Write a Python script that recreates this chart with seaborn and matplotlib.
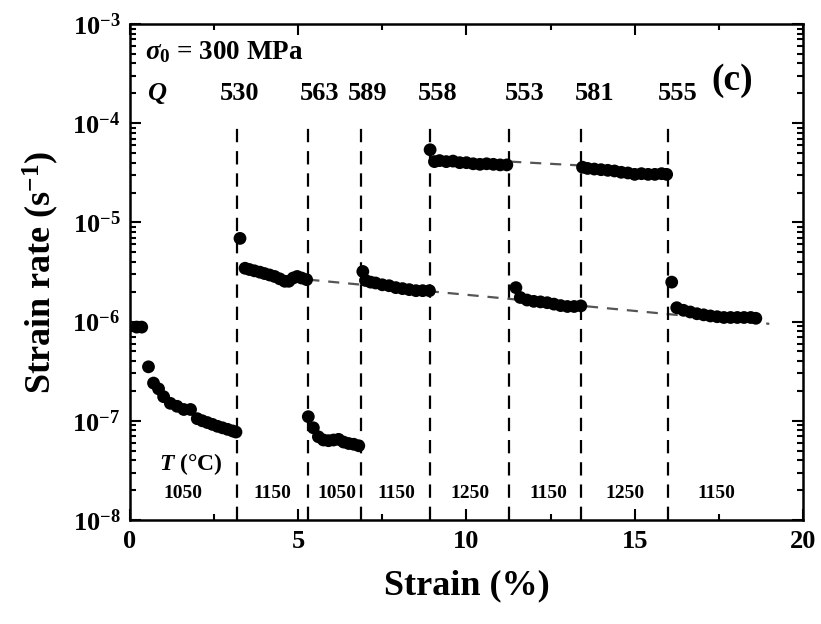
import numpy as np
import pandas as pd
import seaborn as sns
import matplotlib.pyplot as plt
from matplotlib.ticker import FuncFormatter, LogLocator, MultipleLocator

# ===== DATA =====
seg1_strain = [0.2, 0.35, 0.55, 0.7, 0.85, 1.0, 1.2, 1.4, 1.6, 1.8, 2.0, 2.15, 2.3, 2.45, 2.6, 2.75, 2.9, 3.05, 3.15]
seg1_rate = [8.8e-7, 8.8e-7, 3.5e-7, 2.4e-7, 2.1e-7, 1.75e-7, 1.5e-7, 1.4e-7, 1.3e-7, 1.3e-7, 1.05e-7,
             1.0e-7, 9.6e-8, 9.2e-8, 8.8e-8, 8.5e-8, 8.2e-8, 7.9e-8, 7.7e-8]

seg2_strain = [3.27, 3.42, 3.55, 3.7, 3.86, 4.0, 4.15, 4.3, 4.45, 4.6, 4.72, 4.85, 4.97, 5.1, 5.25]
seg2_rate = [6.9e-6, 3.45e-6, 3.35e-6, 3.25e-6, 3.15e-6, 3.05e-6, 2.95e-6, 2.85e-6, 2.7e-6, 2.55e-6,
             2.55e-6, 2.75e-6, 2.85e-6, 2.75e-6, 2.65e-6]

seg3_strain = [5.3, 5.45, 5.6, 5.75, 5.9, 6.05, 6.2, 6.35, 6.5, 6.65, 6.8]
seg3_rate = [1.1e-7, 8.5e-8, 6.9e-8, 6.4e-8, 6.3e-8, 6.4e-8, 6.5e-8, 6.1e-8, 5.9e-8, 5.8e-8, 5.6e-8]

seg4_strain = [6.92, 7.0, 7.15, 7.3, 7.5, 7.7, 7.9, 8.1, 8.3, 8.5, 8.7, 8.9]
seg4_rate = [3.2e-6, 2.6e-6, 2.5e-6, 2.45e-6, 2.35e-6, 2.3e-6, 2.2e-6, 2.15e-6, 2.1e-6, 2.05e-6, 2.05e-6, 2.05e-6]

seg5_strain = [8.92, 9.05, 9.2, 9.4, 9.6, 9.8, 10.0, 10.2, 10.4, 10.6, 10.8, 11.0, 11.2]
seg5_rate = [5.4e-5, 4.1e-5, 4.2e-5, 4.1e-5, 4.15e-5, 4.0e-5, 4.0e-5, 3.9e-5, 3.85e-5, 3.9e-5, 3.85e-5,
             3.8e-5, 3.8e-5]

seg6_strain = [11.47, 11.6, 11.8, 12.0, 12.2, 12.4, 12.6, 12.8, 13.0, 13.2, 13.4]
seg6_rate = [2.2e-6, 1.75e-6, 1.65e-6, 1.6e-6, 1.58e-6, 1.55e-6, 1.5e-6, 1.45e-6, 1.42e-6, 1.42e-6, 1.44e-6]

seg7_strain = [13.45, 13.6, 13.8, 14.0, 14.2, 14.4, 14.6, 14.8, 15.0, 15.2, 15.4, 15.6, 15.8, 15.95]
seg7_rate = [3.6e-5, 3.5e-5, 3.45e-5, 3.4e-5, 3.35e-5, 3.3e-5, 3.2e-5, 3.15e-5, 3.05e-5, 3.1e-5, 3.05e-5,
             3.05e-5, 3.1e-5, 3.05e-5]

seg8_strain = [16.1, 16.25, 16.45, 16.65, 16.85, 17.05, 17.25, 17.45, 17.65, 17.85, 18.05, 18.25, 18.45, 18.6]
seg8_rate = [2.5e-6, 1.38e-6, 1.3e-6, 1.25e-6, 1.2e-6, 1.17e-6, 1.14e-6, 1.12e-6, 1.1e-6, 1.1e-6, 1.1e-6,
             1.1e-6, 1.1e-6, 1.08e-6]

# dashed trend lines (1150 C and 1250 C)
fit1150_strain = [5.3, 19.0]
fit1150_rate = [2.65e-6, 9.5e-7]
fit1250_strain = [11.3, 13.4]
fit1250_rate = [4.1e-5, 3.75e-5]

# temperature change positions and labels
change_strain = [3.17, 5.29, 6.86, 8.92, 11.26, 13.40, 15.99]
q_values = ['530', '563', '589', '558', '553', '581', '555']
q_label_x = [3.27, 5.62, 7.07, 9.15, 11.74, 13.82, 16.29]
temp_labels = ['1050', '1150', '1050', '1150', '1250', '1150', '1250', '1150']
temp_label_x = [1.57, 4.22, 6.15, 7.93, 10.1, 12.42, 14.71, 17.44]

segments = [(seg1_strain, seg1_rate), (seg2_strain, seg2_rate), (seg3_strain, seg3_rate),
            (seg4_strain, seg4_rate), (seg5_strain, seg5_rate), (seg6_strain, seg6_rate),
            (seg7_strain, seg7_rate), (seg8_strain, seg8_rate)]
df = pd.concat([pd.DataFrame({'strain': s, 'rate': r, 'seg': i})
                for i, (s, r) in enumerate(segments)], ignore_index=True)

# ===== STYLE =====
sns.set_style('ticks')
plt.rcParams['font.family'] = ['Liberation Serif', 'DejaVu Serif']
plt.rcParams['font.weight'] = 'bold'
plt.rcParams['mathtext.fontset'] = 'custom'
plt.rcParams['mathtext.rm'] = 'Liberation Serif:bold'
plt.rcParams['mathtext.bf'] = 'Liberation Serif:bold'
plt.rcParams['mathtext.it'] = 'Liberation Serif:italic:bold'
plt.rcParams['axes.unicode_minus'] = True
for key in ['text.color', 'axes.labelcolor', 'xtick.color', 'ytick.color', 'axes.edgecolor']:
    plt.rcParams[key] = 'black'

fig = plt.figure(figsize=(8.21, 6.24), dpi=100)
ax = fig.add_axes([0.1583, 0.1667, 0.8197, 0.7948])

# trend lines
ax.plot(fit1150_strain, fit1150_rate, ls=(0, (5, 4)), color='#555555', lw=1.6, zorder=1)
ax.plot(fit1250_strain, fit1250_rate, ls=(0, (5, 4)), color='#555555', lw=1.6, zorder=1)

# vertical change lines
ax.vlines(change_strain, 1e-8, 1e-4, colors='black', linestyles=(0, (6, 4)), lw=1.6, zorder=1)

sns.scatterplot(data=df, x='strain', y='rate', color='black', s=85, edgecolor='none',
                legend=False, ax=ax, zorder=3)

ax.set_yscale('log')
ax.set_xlim(0, 20)
ax.set_ylim(1e-8, 1e-3)

ax.xaxis.set_major_locator(MultipleLocator(5))
ax.xaxis.set_minor_locator(MultipleLocator(2.5))
ax.yaxis.set_major_locator(LogLocator(base=10, numticks=10))
ax.yaxis.set_minor_locator(LogLocator(base=10, subs=np.arange(2, 10), numticks=20))
ax.yaxis.set_major_formatter(FuncFormatter(lambda v, _: r'$10^{%d}$' % round(np.log10(v))))
ax.yaxis.set_minor_formatter(FuncFormatter(lambda v, _: ''))

ax.tick_params(which='both', direction='in', top=True, right=True, labelsize=19, width=1.5,
               colors='black')
ax.tick_params(which='major', length=8, pad=7)
ax.tick_params(which='minor', length=4)
for sp in ax.spines.values():
    sp.set_linewidth(1.8)
    sp.set_color('black')
for lab in ax.get_xticklabels() + ax.get_yticklabels():
    lab.set_fontweight('bold')

ax.set_xlabel('Strain (%)', fontsize=26, fontweight='bold', labelpad=12)
ax.set_ylabel(r'Strain rate (s$^{-1}$)', fontsize=26, fontweight='bold', labelpad=8)

# annotations
ax.text(0.45, 5.2e-4, r'$\sigma_0$ = 300 MPa', fontsize=19.5, fontweight='bold', va='center', ha='left')
ax.text(0.5, 2.0e-4, 'Q', fontsize=19, fontweight='bold', style='italic', va='center', ha='left')
for x, q in zip(q_label_x, q_values):
    ax.text(x, 2.0e-4, q, fontsize=19, fontweight='bold', va='center', ha='center')
ax.text(17.9, 2.7e-4, '(c)', fontsize=27, fontweight='bold', va='center', ha='center')

ax.text(1.8, 3.7e-8, r'$T$ (°C)', fontsize=17, fontweight='bold', va='center', ha='center')
for x, t in zip(temp_label_x, temp_labels):
    ax.text(x, 1.86e-8, t, fontsize=14, fontweight='bold', va='center', ha='center')

plt.savefig('out.png', dpi=100)
